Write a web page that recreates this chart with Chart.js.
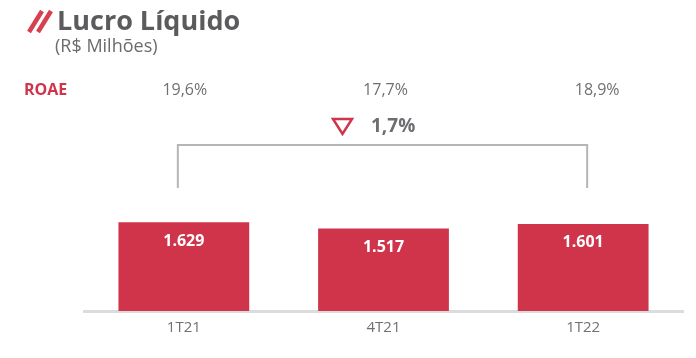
<!DOCTYPE html>
<html>
<head>
<meta charset="utf-8">
<script src="https://cdn.jsdelivr.net/npm/chart.js@4.4.1/dist/chart.umd.min.js"></script>
<style>
    html, body { margin: 0; padding: 0; background: #fff; }
    #wrap { position: relative; width: 696px; height: 358px; }
</style>
</head>
<body>
<div id="wrap"><canvas id="lucro-chart"></canvas></div>
<script>
// Data
var periodLabels = ["1T21", "4T21", "1T22"];
var lucroValues = [1629, 1517, 1601];
var roaeValues = ["19,6%", "17,7%", "18,9%"];
var variationLabel = "1,7%";

var RED = "#d0344a";
var GREY_TEXT = "#707072";

function formatBR(n) {
    var s = String(n);
    return s.replace(/\B(?=(\d{3})+(?!\d))/g, ".");
}

// value labels inside bars
var valueLabels = {
    id: "valueLabels",
    afterDatasetsDraw: function(chart) {
        var ctx = chart.ctx;
        var meta = chart.getDatasetMeta(0);
        ctx.save();
        ctx.fillStyle = "#fff";
        ctx.font = "bold 16px 'Open Sans'";
        ctx.textAlign = "center";
        ctx.textBaseline = "middle";
        meta.data.forEach(function(bar, i) {
            ctx.fillText(formatBR(lucroValues[i]), bar.x, bar.y + 19);
        });
        ctx.restore();
    }
};

// title, ROAE row and the variation bracket
var header = {
    id: "header",
    afterDraw: function(chart) {
        var ctx = chart.ctx;
        var x = chart.scales.x;
        ctx.save();

        // slashes
        ctx.strokeStyle = "#d9404f";
        ctx.lineWidth = 4.5;
        ctx.beginPath();
        ctx.moveTo(29, 32); ctx.lineTo(42, 11);
        ctx.moveTo(38, 32); ctx.lineTo(51, 11);
        ctx.stroke();

        ctx.textBaseline = "alphabetic";
        ctx.textAlign = "left";
        ctx.fillStyle = "#5b5b5d";
        ctx.font = "bold 27px 'Open Sans'";
        ctx.fillText("Lucro Líquido", 57, 30);

        ctx.fillStyle = "#6b6b6d";
        ctx.font = "18px 'Open Sans'";
        ctx.fillText("(R$ Milhões)", 55, 52);

        // ROAE row
        ctx.fillStyle = RED;
        ctx.font = "bold 16px 'Open Sans'";
        ctx.fillText("ROAE", 24, 95);

        var nudge = [1, 2, 14];
        ctx.textAlign = "center";
        ctx.fillStyle = GREY_TEXT;
        ctx.font = "16px 'Open Sans'";
        roaeValues.forEach(function(v, i) {
            ctx.fillText(v, x.getPixelForValue(i) + nudge[i], 95);
        });

        // bracket
        var x0 = x.getPixelForValue(0) - 6;
        var x2 = x.getPixelForValue(2) + 4;
        ctx.strokeStyle = "#b5b5b5";
        ctx.lineWidth = 2;
        ctx.beginPath();
        ctx.moveTo(x0, 188);
        ctx.lineTo(x0, 145);
        ctx.lineTo(x2, 145);
        ctx.lineTo(x2, 188);
        ctx.stroke();

        // variation: triangle + text
        ctx.strokeStyle = RED;
        ctx.lineWidth = 2.5;
        ctx.beginPath();
        ctx.moveTo(333, 119);
        ctx.lineTo(352, 119);
        ctx.lineTo(342.5, 134);
        ctx.closePath();
        ctx.stroke();

        ctx.textAlign = "left";
        ctx.fillStyle = "#6d6e71";
        ctx.font = "bold 19px 'Open Sans'";
        ctx.fillText(variationLabel, 371, 132);

        ctx.restore();
    }
};

var lucroChart = new Chart(document.getElementById("lucro-chart").getContext("2d"), {
    type: "bar",
    data: {
        labels: periodLabels,
        datasets: [{
            label: "Lucro Líquido",
            data: lucroValues,
            backgroundColor: RED,
            borderWidth: 0,
            barPercentage: 0.655,
            categoryPercentage: 1
        }]
    },
    options: {
        responsive: true,
        maintainAspectRatio: false,
        animation: false,
        layout: {
            padding: { left: 84, right: 13, top: 200, bottom: 13 }
        },
        plugins: {
            legend: { display: false },
            tooltip: { enabled: false }
        },
        scales: {
            y: {
                display: false,
                min: 0,
                max: 2040
            },
            x: {
                grid: {
                    display: false,
                    drawTicks: false
                },
                border: {
                    display: true,
                    color: "#dcdcdc",
                    width: 3
                },
                ticks: {
                    color: GREY_TEXT,
                    padding: 8,
                    font: {
                        size: 15,
                        family: "Open Sans"
                    }
                }
            }
        }
    },
    plugins: [valueLabels, header]
});
</script>
</body>
</html>
